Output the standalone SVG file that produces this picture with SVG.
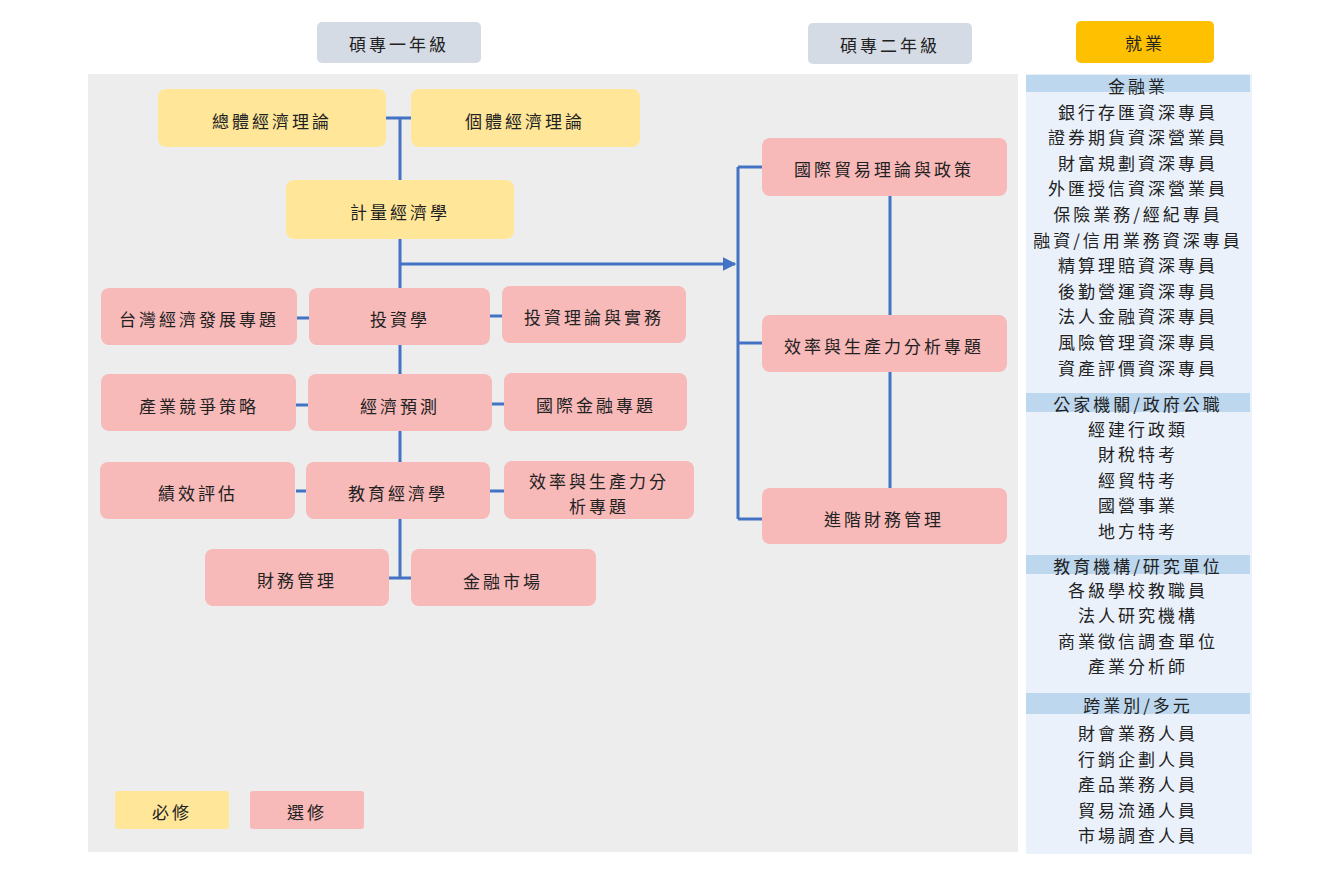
<svg xmlns="http://www.w3.org/2000/svg" width="1321" height="875" viewBox="0 0 1321 875">
<style>
text{font-family:"Noto Sans CJK TC","Noto Sans CJK SC",sans-serif;font-size:17px;fill:#222;text-anchor:middle;dominant-baseline:central;letter-spacing:3px}
.y{fill:#ffe699}.p{fill:#f8b9b9}.hd{fill:#d5dbe5}
.c{stroke:#4472c4;stroke-width:3;fill:none}
.r text{font-size:17px}
.sh{fill:#bdd7ee}
</style>
<defs><marker id="a" viewBox="0 0 10 10" refX="9" refY="5" markerWidth="4.5" markerHeight="6" orient="auto" markerUnits="strokeWidth"><path d="M0 0L10 5L0 10z" fill="#4472c4"/></marker></defs>
<rect width="1321" height="875" fill="#fff"/>
<rect x="88" y="74" width="930" height="778" fill="#ededed"/>
<g id="h1"><rect class="hd" x="317" y="22" width="164" height="41" rx="5"/><text x="399" y="43">碩專一年級</text></g>
<g id="h2"><rect class="hd" x="808" y="23" width="164" height="41" rx="5"/><text x="890" y="44">碩專二年級</text></g>
<g id="h3"><rect x="1076" y="21" width="138" height="42" rx="5" fill="#ffc000"/><text x="1145" y="42">就業</text></g>
<g id="connectors">
<path class="c" d="M386 118H411M400 118V181M400 239V288M400 264H735" marker-end="url(#a)"/>
<path class="c" d="M738 167V519M738 167H762M738 343H762M738 519H762M890 196V315M890 372V488"/>
<path class="c" d="M400 344V375M400 431V463M400 519V578M388 578H411M297 318H309M490 316H503M296 405H308M491 404H505M296 491H307M490 491H505"/>
</g>
<g id="n1"><rect class="y" x="158" y="89" width="228" height="58" rx="8"/><text x="272" y="120">總體經濟理論</text></g>
<g id="n2"><rect class="y" x="411" y="89" width="229" height="58" rx="8"/><text x="525" y="120">個體經濟理論</text></g>
<g id="n3"><rect class="y" x="286" y="180" width="228" height="59" rx="8"/><text x="400" y="211">計量經濟學</text></g>
<g id="n4"><rect class="p" x="101" y="288" width="196" height="57" rx="8"/><text x="199" y="318">台灣經濟發展專題</text></g>
<g id="n5"><rect class="p" x="309" y="288" width="181" height="57" rx="8"/><text x="400" y="318">投資學</text></g>
<g id="n6"><rect class="p" x="502" y="286" width="184" height="57" rx="8"/><text x="594" y="316">投資理論與實務</text></g>
<g id="n7"><rect class="p" x="101" y="374" width="195" height="57" rx="8"/><text x="199" y="405">產業競爭策略</text></g>
<g id="n8"><rect class="p" x="308" y="374" width="184" height="57" rx="8"/><text x="400" y="405">經濟預測</text></g>
<g id="n9"><rect class="p" x="504" y="373" width="183" height="58" rx="8"/><text x="596" y="404">國際金融專題</text></g>
<g id="n10"><rect class="p" x="100" y="462" width="195" height="57" rx="8"/><text x="198" y="492">績效評估</text></g>
<g id="n11"><rect class="p" x="306" y="462" width="184" height="57" rx="8"/><text x="398" y="492">教育經濟學</text></g>
<g id="n12"><rect class="p" x="504" y="461" width="190" height="58" rx="8"/><text x="599" y="480">效率與生產力分</text><text x="599" y="505">析專題</text></g>
<g id="n13"><rect class="p" x="205" y="549" width="184" height="57" rx="8"/><text x="297" y="579">財務管理</text></g>
<g id="n14"><rect class="p" x="411" y="549" width="185" height="57" rx="8"/><text x="503" y="580">金融市場</text></g>
<g id="n15"><rect class="p" x="762" y="138" width="245" height="58" rx="8"/><text x="884" y="168">國際貿易理論與政策</text></g>
<g id="n16"><rect class="p" x="762" y="315" width="245" height="57" rx="8"/><text x="884" y="345">效率與生產力分析專題</text></g>
<g id="n17"><rect class="p" x="762" y="488" width="245" height="56" rx="8"/><text x="884" y="518">進階財務管理</text></g>
<g id="leg1"><rect class="y" x="115" y="791" width="114" height="38" rx="3"/><text x="172" y="811">必修</text></g>
<g id="leg2"><rect class="p" x="250" y="791" width="114" height="38" rx="3"/><text x="307" y="811">選修</text></g>
<g id="jobs" class="r">
<rect x="1026" y="74" width="226" height="780" fill="#eaf1fb"/>
<rect class="sh" x="1026" y="75" width="224" height="17"/><text x="1138" y="85">金融業</text>
<text x="1138" y="111">銀行存匯資深專員</text><text x="1138" y="136">證券期貨資深營業員</text><text x="1138" y="162">財富規劃資深專員</text><text x="1138" y="187">外匯授信資深營業員</text><text x="1138" y="213">保險業務/經紀專員</text><text x="1138" y="239">融資/信用業務資深專員</text><text x="1138" y="264">精算理賠資深專員</text><text x="1138" y="290">後勤營運資深專員</text><text x="1138" y="315">法人金融資深專員</text><text x="1138" y="341">風險管理資深專員</text><text x="1138" y="367">資產評價資深專員</text>
<rect class="sh" x="1026" y="393" width="224" height="19"/><text x="1138" y="403">公家機關/政府公職</text>
<text x="1138" y="428">經建行政類</text><text x="1138" y="453">財稅特考</text><text x="1138" y="479">經貿特考</text><text x="1138" y="504">國營事業</text><text x="1138" y="530">地方特考</text>
<rect class="sh" x="1026" y="555" width="224" height="19"/><text x="1138" y="565">教育機構/研究單位</text>
<text x="1138" y="589">各級學校教職員</text><text x="1138" y="614">法人研究機構</text><text x="1138" y="640">商業徵信調查單位</text><text x="1138" y="665">產業分析師</text>
<rect class="sh" x="1026" y="693" width="224" height="21"/><text x="1138" y="704">跨業別/多元</text>
<text x="1138" y="732">財會業務人員</text><text x="1138" y="758">行銷企劃人員</text><text x="1138" y="783">產品業務人員</text><text x="1138" y="809">貿易流通人員</text><text x="1138" y="834">市場調查人員</text>
</g>
</svg>
